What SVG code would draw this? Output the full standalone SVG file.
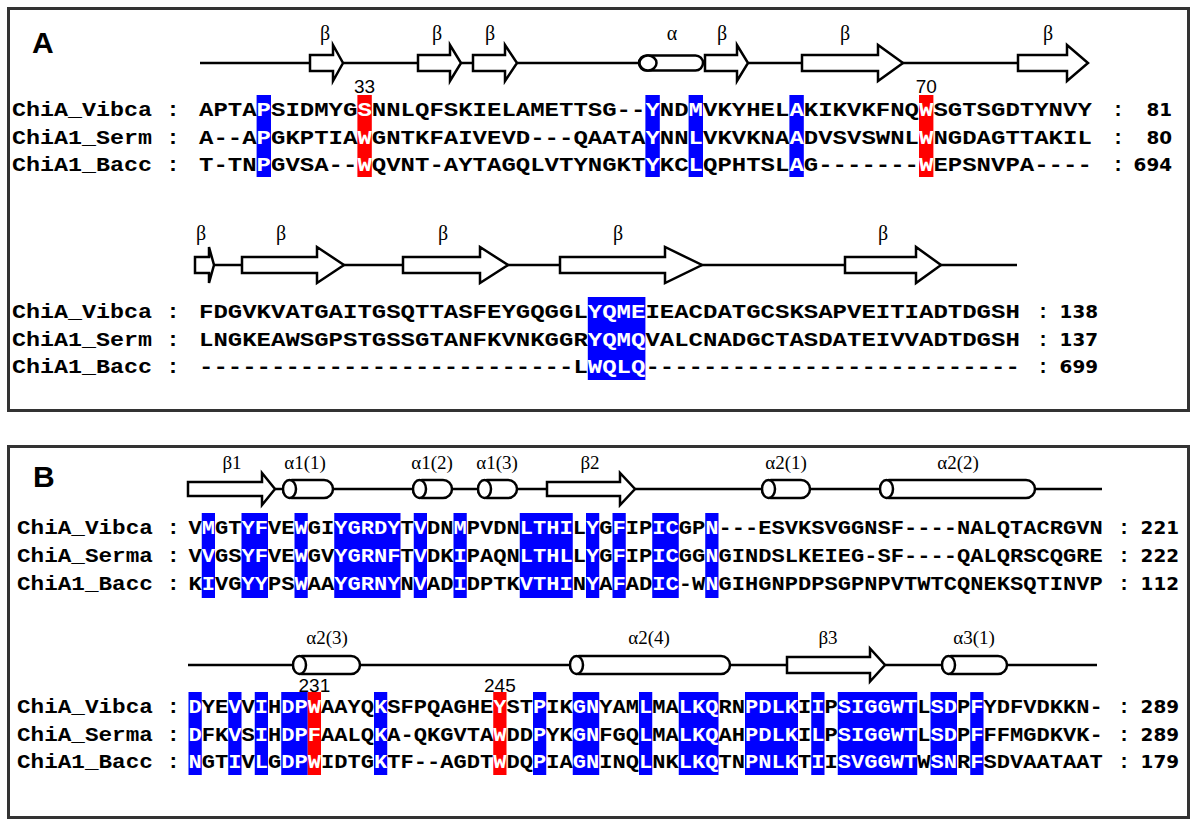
<svg xmlns="http://www.w3.org/2000/svg" width="1200" height="826" viewBox="0 0 1200 826">
<style>
.panel{fill:none;stroke:#333;stroke-width:3}
.plab{font-family:"Liberation Sans",Arial,sans-serif;font-weight:bold;font-size:30px;fill:#000}
.ss{fill:#fff;stroke:#000;stroke-width:2.5}
.bb{stroke:#000;stroke-width:2.5;fill:none}
.sl{font-family:"Liberation Serif","Times New Roman",serif;font-size:20px;fill:#000;text-anchor:middle}
.slb{font-family:"Liberation Serif","Times New Roman",serif;font-size:19px;fill:#000;text-anchor:middle}
.seqA{font-family:"Liberation Mono","Courier New",monospace;font-weight:bold;font-size:21px;fill:#000}
.seqB{font-family:"Liberation Mono","Courier New",monospace;font-weight:bold;font-size:20px;fill:#000}
.col{font-family:"Liberation Mono","Courier New",monospace;font-weight:bold;font-size:21px;fill:#000;text-anchor:middle}
.w{fill:#fff}
.blue{fill:#0000ff}
.red{fill:#ff0000}
.num{font-family:"DejaVu Sans",Verdana,sans-serif;font-weight:bold;font-size:17px;fill:#000;text-anchor:end}
.mark{font-family:"Liberation Sans",Arial,sans-serif;font-size:19px;fill:#000;text-anchor:middle}
</style>
<rect width="1200" height="826" fill="#fff"/>

<g id="panelA">
<rect class="panel" x="8.5" y="8.5" width="1180" height="402"/>
<text class="plab" x="32" y="53">A</text>

<g id="A-structure-1">
<line class="bb" x1="200" y1="63" x2="1018" y2="63"/>
<polygon class="ss" points="310,55 333,55 333,45 343,63 333,81 333,71 310,71"/>
<polygon class="ss" points="418,55 450,55 450,45 461,63 450,81 450,71 418,71"/>
<polygon class="ss" points="473,55 505,55 505,45 517,63 505,81 505,71 473,71"/>
<rect class="ss" x="639" y="55.5" width="64" height="15" rx="7.5"/>
<ellipse class="ss" cx="648" cy="63" rx="8.5" ry="7.5"/>
<polygon class="ss" points="705,55 737,55 737,45 748,63 737,81 737,71 705,71"/>
<polygon class="ss" points="802,55 878,55 878,45 903,63 878,81 878,71 802,71"/>
<polygon class="ss" points="1018,55 1067,55 1067,45 1088,63 1067,81 1067,71 1018,71"/>
<text class="sl" x="325" y="40">β</text>
<text class="sl" x="437" y="40">β</text>
<text class="sl" x="490" y="40">β</text>
<text class="sl" x="672" y="40">α</text>
<text class="sl" x="722" y="40">β</text>
<text class="sl" x="845" y="40">β</text>
<text class="sl" x="1048" y="40">β</text>
</g>

<g id="A-highlights-1">
<rect class="blue" x="256.6" y="95" width="14.4" height="82"/>
<rect class="red" x="357.4" y="95" width="14.4" height="82"/>
<rect class="blue" x="645.4" y="95" width="14.4" height="82"/>
<rect class="blue" x="688.6" y="95" width="14.4" height="82"/>
<rect class="blue" x="789.4" y="95" width="14.4" height="82"/>
<rect class="red" x="919" y="95" width="14.4" height="82"/>
</g>
<text class="mark" x="364.6" y="93">33</text>
<text class="mark" x="926.2" y="93">70</text>

<g id="A-rows-1">
<text class="seqA" x="12" y="116" textLength="168" lengthAdjust="spacingAndGlyphs">ChiA_Vibca :</text>
<text class="seqA" x="12" y="143.5" textLength="168" lengthAdjust="spacingAndGlyphs">ChiA1_Serm :</text>
<text class="seqA" x="12" y="171" textLength="168" lengthAdjust="spacingAndGlyphs">ChiA1_Bacc :</text>
<text class="seqA" x="199" y="116" textLength="892.8" lengthAdjust="spacingAndGlyphs">APTA<tspan class="w">P</tspan>SIDMYG<tspan class="w">S</tspan>NNLQFSKIELAMETTSG--<tspan class="w">Y</tspan>ND<tspan class="w">M</tspan>VKYHEL<tspan class="w">A</tspan>KIKVKFNQ<tspan class="w">W</tspan>SGTSGDTYNVY</text>
<text class="seqA" x="199" y="143.5" textLength="892.8" lengthAdjust="spacingAndGlyphs">A--A<tspan class="w">P</tspan>GKPTIA<tspan class="w">W</tspan>GNTKFAIVEVD---QAATA<tspan class="w">Y</tspan>NN<tspan class="w">L</tspan>VKVKNA<tspan class="w">A</tspan>DVSVSWNL<tspan class="w">W</tspan>NGDAGTTAKIL</text>
<text class="seqA" x="199" y="171" textLength="892.8" lengthAdjust="spacingAndGlyphs">T-TN<tspan class="w">P</tspan>GVSA--<tspan class="w">W</tspan>QVNT-AYTAGQLVTYNGKT<tspan class="w">Y</tspan>KC<tspan class="w">L</tspan>QPHTSL<tspan class="w">A</tspan>G-------<tspan class="w">W</tspan>EPSNVPA----</text>
<text class="col" x="1118" y="116">:</text>
<text class="col" x="1118" y="143.5">:</text>
<text class="col" x="1118" y="171">:</text>
<text class="num" x="1172" y="116" textLength="25.6" lengthAdjust="spacingAndGlyphs">81</text>
<text class="num" x="1172" y="143.5" textLength="25.6" lengthAdjust="spacingAndGlyphs">80</text>
<text class="num" x="1172" y="171" textLength="38.4" lengthAdjust="spacingAndGlyphs">694</text>
</g>

<g id="A-structure-2">
<line class="bb" x1="214" y1="265" x2="1017" y2="265"/>
<polygon class="ss" points="195,257 209,257 209,247 214,265 209,283 209,273 195,273"/>
<polygon class="ss" points="242,257 317,257 317,247 344,265 317,283 317,273 242,273"/>
<polygon class="ss" points="403,257 480,257 480,247 508,265 480,283 480,273 403,273"/>
<polygon class="ss" points="560,257 665,257 665,247 702,265 665,283 665,273 560,273"/>
<polygon class="ss" points="845,257 916,257 916,247 941,265 916,283 916,273 845,273"/>
<text class="sl" x="201" y="240">β</text>
<text class="sl" x="281" y="240">β</text>
<text class="sl" x="443" y="240">β</text>
<text class="sl" x="618" y="240">β</text>
<text class="sl" x="883" y="240">β</text>
</g>

<g id="A-highlights-2">
<rect class="blue" x="587.8" y="297" width="57.6" height="83"/>
</g>

<g id="A-rows-2">
<text class="seqA" x="12" y="318" textLength="168" lengthAdjust="spacingAndGlyphs">ChiA_Vibca :</text>
<text class="seqA" x="12" y="345.5" textLength="168" lengthAdjust="spacingAndGlyphs">ChiA1_Serm :</text>
<text class="seqA" x="12" y="373" textLength="168" lengthAdjust="spacingAndGlyphs">ChiA1_Bacc :</text>
<text class="seqA" x="199" y="318" textLength="820.8" lengthAdjust="spacingAndGlyphs">FDGVKVATGAITGSQTTASFEYGQGGL<tspan class="w">YQME</tspan>IEACDATGCSKSAPVEITIADTDGSH</text>
<text class="seqA" x="199" y="345.5" textLength="820.8" lengthAdjust="spacingAndGlyphs">LNGKEAWSGPSTGSSGTANFKVNKGGR<tspan class="w">YQMQ</tspan>VALCNADGCTASDATEIVVADTDGSH</text>
<text class="seqA" x="199" y="373" textLength="820.8" lengthAdjust="spacingAndGlyphs">--------------------------L<tspan class="w">WQLQ</tspan>--------------------------</text>
<text class="col" x="1043" y="318">:</text>
<text class="col" x="1043" y="345.5">:</text>
<text class="col" x="1043" y="373">:</text>
<text class="num" x="1098" y="318" textLength="38.4" lengthAdjust="spacingAndGlyphs">138</text>
<text class="num" x="1098" y="345.5" textLength="38.4" lengthAdjust="spacingAndGlyphs">137</text>
<text class="num" x="1098" y="373" textLength="38.4" lengthAdjust="spacingAndGlyphs">699</text>
</g>
</g>

<g id="panelB">
<rect class="panel" x="8.5" y="446.5" width="1180" height="371"/>
<text class="plab" x="33" y="487">B</text>

<g id="B-structure-1">
<line class="bb" x1="275" y1="489" x2="1102" y2="489"/>
<polygon class="ss" points="188,482 262,482 262,473 275,489 262,505 262,496 188,496"/>
<rect class="ss" x="283" y="480" width="50" height="18" rx="9"/>
<ellipse class="ss" cx="289.5" cy="489" rx="6.5" ry="9"/>
<rect class="ss" x="413" y="480" width="39" height="18" rx="9"/>
<ellipse class="ss" cx="419.5" cy="489" rx="6.5" ry="9"/>
<rect class="ss" x="478" y="480" width="39" height="18" rx="9"/>
<ellipse class="ss" cx="484.5" cy="489" rx="6.5" ry="9"/>
<polygon class="ss" points="547,482 620,482 620,473 635,489 620,505 620,496 547,496"/>
<rect class="ss" x="762" y="480" width="48" height="18" rx="9"/>
<ellipse class="ss" cx="768.5" cy="489" rx="6.5" ry="9"/>
<rect class="ss" x="880" y="480" width="155" height="18" rx="9"/>
<ellipse class="ss" cx="886.5" cy="489" rx="6.5" ry="9"/>
<text class="slb" x="232" y="469">β1</text>
<text class="slb" x="305" y="469">α1(1)</text>
<text class="slb" x="432" y="469">α1(2)</text>
<text class="slb" x="497" y="469">α1(3)</text>
<text class="slb" x="590" y="469">β2</text>
<text class="slb" x="786" y="469">α2(1)</text>
<text class="slb" x="958" y="469">α2(2)</text>
</g>

<g id="B-highlights-1">
<rect class="blue" x="201.75" y="513" width="13.25" height="85"/>
<rect class="blue" x="241.5" y="513" width="26.5" height="85"/>
<rect class="blue" x="294.5" y="513" width="13.25" height="85"/>
<rect class="blue" x="334.25" y="513" width="66.25" height="85"/>
<rect class="blue" x="413.75" y="513" width="13.25" height="85"/>
<rect class="blue" x="453.5" y="513" width="13.25" height="85"/>
<rect class="blue" x="519.75" y="513" width="53" height="85"/>
<rect class="blue" x="586" y="513" width="13.25" height="85"/>
<rect class="blue" x="612.5" y="513" width="13.25" height="85"/>
<rect class="blue" x="652.25" y="513" width="26.5" height="85"/>
<rect class="blue" x="705.25" y="513" width="13.25" height="85"/>
</g>

<g id="B-rows-1">
<text class="seqB" x="17" y="534" textLength="163" lengthAdjust="spacingAndGlyphs">ChiA_Vibca :</text>
<text class="seqB" x="17" y="562" textLength="163" lengthAdjust="spacingAndGlyphs">ChiA_Serma :</text>
<text class="seqB" x="17" y="590" textLength="163" lengthAdjust="spacingAndGlyphs">ChiA1_Bacc :</text>
<text class="seqB" x="188.5" y="534" textLength="914.25" lengthAdjust="spacingAndGlyphs">V<tspan class="w">M</tspan>GT<tspan class="w">YF</tspan>VE<tspan class="w">W</tspan>GI<tspan class="w">YGRDY</tspan>T<tspan class="w">V</tspan>DN<tspan class="w">M</tspan>PVDN<tspan class="w">LTHI</tspan>L<tspan class="w">Y</tspan>G<tspan class="w">F</tspan>IP<tspan class="w">IC</tspan>GP<tspan class="w">N</tspan>---ESVKSVGGNSF----NALQTACRGVN</text>
<text class="seqB" x="188.5" y="562" textLength="914.25" lengthAdjust="spacingAndGlyphs">V<tspan class="w">V</tspan>GS<tspan class="w">YF</tspan>VE<tspan class="w">W</tspan>GV<tspan class="w">YGRNF</tspan>T<tspan class="w">V</tspan>DK<tspan class="w">I</tspan>PAQN<tspan class="w">LTHL</tspan>L<tspan class="w">Y</tspan>G<tspan class="w">F</tspan>IP<tspan class="w">IC</tspan>GG<tspan class="w">N</tspan>GINDSLKEIEG-SF----QALQRSCQGRE</text>
<text class="seqB" x="188.5" y="590" textLength="914.25" lengthAdjust="spacingAndGlyphs">K<tspan class="w">I</tspan>VG<tspan class="w">YY</tspan>PS<tspan class="w">W</tspan>AA<tspan class="w">YGRNY</tspan>N<tspan class="w">V</tspan>AD<tspan class="w">I</tspan>DPTK<tspan class="w">VTHI</tspan>N<tspan class="w">Y</tspan>A<tspan class="w">F</tspan>AD<tspan class="w">IC</tspan>-W<tspan class="w">N</tspan>GIHGNPDPSGPNPVTWTCQNEKSQTINVP</text>
<text class="col" x="1124" y="534">:</text>
<text class="col" x="1124" y="562">:</text>
<text class="col" x="1124" y="590">:</text>
<text class="num" x="1179" y="534" textLength="38.4" lengthAdjust="spacingAndGlyphs">221</text>
<text class="num" x="1179" y="562" textLength="38.4" lengthAdjust="spacingAndGlyphs">222</text>
<text class="num" x="1179" y="590" textLength="38.4" lengthAdjust="spacingAndGlyphs">112</text>
</g>

<g id="B-structure-2">
<line class="bb" x1="188" y1="665" x2="1097" y2="665"/>
<rect class="ss" x="293" y="656" width="67" height="18" rx="9"/>
<ellipse class="ss" cx="299.5" cy="665" rx="6.5" ry="9"/>
<rect class="ss" x="570" y="656" width="160" height="18" rx="9"/>
<ellipse class="ss" cx="576.5" cy="665" rx="6.5" ry="9"/>
<polygon class="ss" points="787,657 870,657 870,648.5 885,665 870,681.5 870,673 787,673"/>
<rect class="ss" x="942" y="656" width="65" height="18" rx="9"/>
<ellipse class="ss" cx="948.5" cy="665" rx="6.5" ry="9"/>
<text class="slb" x="327" y="644">α2(3)</text>
<text class="slb" x="649" y="644">α2(4)</text>
<text class="slb" x="828" y="644">β3</text>
<text class="slb" x="974" y="644">α3(1)</text>
</g>

<g id="B-highlights-2">
<rect class="blue" x="188.5" y="692" width="13.25" height="83"/>
<rect class="blue" x="228.25" y="692" width="13.25" height="83"/>
<rect class="blue" x="254.75" y="692" width="13.25" height="83"/>
<rect class="blue" x="281.25" y="692" width="26.5" height="83"/>
<rect class="red" x="307.75" y="692" width="13.25" height="83"/>
<rect class="blue" x="374" y="692" width="13.25" height="83"/>
<rect class="red" x="493.25" y="692" width="13.25" height="83"/>
<rect class="blue" x="533" y="692" width="13.25" height="83"/>
<rect class="blue" x="572.75" y="692" width="26.5" height="83"/>
<rect class="blue" x="639" y="692" width="13.25" height="83"/>
<rect class="blue" x="678.75" y="692" width="39.75" height="83"/>
<rect class="blue" x="745" y="692" width="53" height="83"/>
<rect class="blue" x="811.25" y="692" width="13.25" height="83"/>
<rect class="blue" x="837.75" y="692" width="79.5" height="83"/>
<rect class="blue" x="930.5" y="692" width="26.5" height="83"/>
<rect class="blue" x="970.25" y="692" width="13.25" height="83"/>
</g>
<text class="mark" x="314.4" y="692">231</text>
<text class="mark" x="499.9" y="692">245</text>

<g id="B-rows-2">
<text class="seqB" x="17" y="713" textLength="163" lengthAdjust="spacingAndGlyphs">ChiA_Vibca :</text>
<text class="seqB" x="17" y="740.5" textLength="163" lengthAdjust="spacingAndGlyphs">ChiA_Serma :</text>
<text class="seqB" x="17" y="768" textLength="163" lengthAdjust="spacingAndGlyphs">ChiA1_Bacc :</text>
<text class="seqB" x="188.5" y="713" textLength="914.25" lengthAdjust="spacingAndGlyphs"><tspan class="w">D</tspan>YE<tspan class="w">V</tspan>V<tspan class="w">I</tspan>H<tspan class="w">DPW</tspan>AAYQ<tspan class="w">K</tspan>SFPQAGHE<tspan class="w">Y</tspan>ST<tspan class="w">P</tspan>IK<tspan class="w">GN</tspan>YAM<tspan class="w">L</tspan>MA<tspan class="w">LKQ</tspan>RN<tspan class="w">PDLK</tspan>I<tspan class="w">I</tspan>P<tspan class="w">SIGGWT</tspan>L<tspan class="w">SD</tspan>P<tspan class="w">F</tspan>YDFVDKKN-</text>
<text class="seqB" x="188.5" y="740.5" textLength="914.25" lengthAdjust="spacingAndGlyphs"><tspan class="w">D</tspan>FK<tspan class="w">V</tspan>S<tspan class="w">I</tspan>H<tspan class="w">DPF</tspan>AALQ<tspan class="w">K</tspan>A-QKGVTA<tspan class="w">W</tspan>DD<tspan class="w">P</tspan>YK<tspan class="w">GN</tspan>FGQ<tspan class="w">L</tspan>MA<tspan class="w">LKQ</tspan>AH<tspan class="w">PDLK</tspan>I<tspan class="w">L</tspan>P<tspan class="w">SIGGWT</tspan>L<tspan class="w">SD</tspan>P<tspan class="w">F</tspan>FFMGDKVK-</text>
<text class="seqB" x="188.5" y="768" textLength="914.25" lengthAdjust="spacingAndGlyphs"><tspan class="w">N</tspan>GT<tspan class="w">I</tspan>V<tspan class="w">L</tspan>G<tspan class="w">DPW</tspan>IDTG<tspan class="w">K</tspan>TF--AGDT<tspan class="w">W</tspan>DQ<tspan class="w">P</tspan>IA<tspan class="w">GN</tspan>INQ<tspan class="w">L</tspan>NK<tspan class="w">LKQ</tspan>TN<tspan class="w">PNLK</tspan>T<tspan class="w">I</tspan>I<tspan class="w">SVGGWT</tspan>W<tspan class="w">SN</tspan>R<tspan class="w">F</tspan>SDVAATAAT</text>
<text class="col" x="1124" y="713">:</text>
<text class="col" x="1124" y="740.5">:</text>
<text class="col" x="1124" y="768">:</text>
<text class="num" x="1179" y="713" textLength="38.4" lengthAdjust="spacingAndGlyphs">289</text>
<text class="num" x="1179" y="740.5" textLength="38.4" lengthAdjust="spacingAndGlyphs">289</text>
<text class="num" x="1179" y="768" textLength="38.4" lengthAdjust="spacingAndGlyphs">179</text>
</g>
</g>
</svg>
